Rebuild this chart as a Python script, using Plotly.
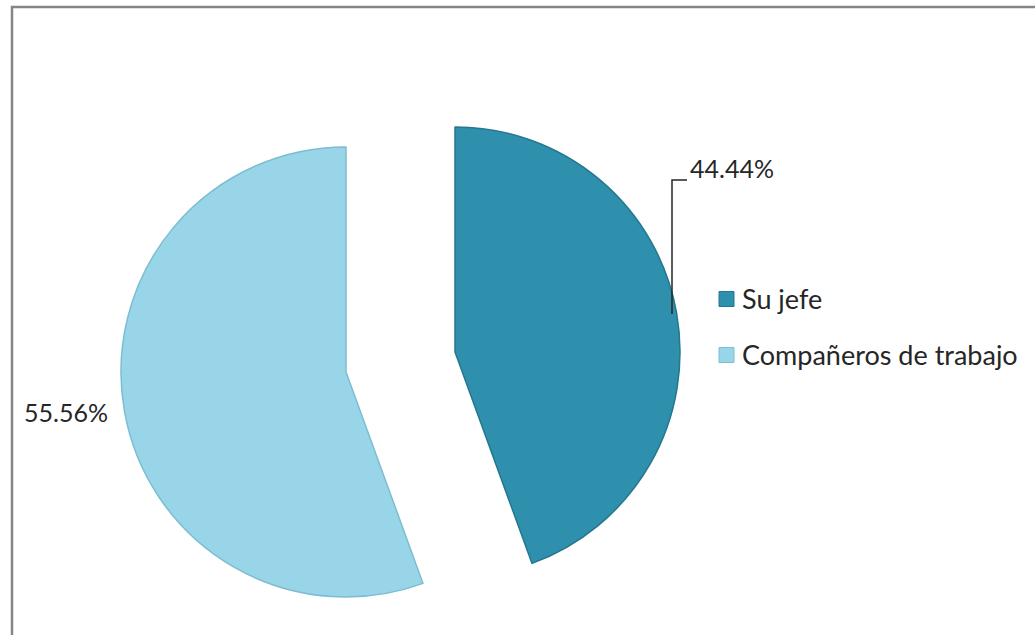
import plotly.graph_objects as go

# Survey answers: who the respondent turns to
categories = ["Su jefe", "Compañeros de trabajo"]
values = [44.44, 55.56]
colors = ["#2E90AD", "#99D5E8"]
edge_colors = ["#23778F", "#7DBDD0"]

W, H = 1035, 635
FONT = "Lato"
TEXT_COLOR = "#262626"

# Exploded pie: each wedge drawn around its own apex (pixel layout)
apex_px = [(455, 352), (346, 372)]
radius_px = 225

total = sum(values)
pct_text = [f"{v / total * 100:.2f}%" for v in values]

fig = go.Figure()

for i, (cx, cy) in enumerate(apex_px):
    slice_colors = ["rgba(0,0,0,0)"] * len(values)
    slice_lines = ["rgba(0,0,0,0)"] * len(values)
    slice_colors[i] = colors[i]
    slice_lines[i] = edge_colors[i]
    fig.add_trace(go.Pie(
        labels=categories,
        values=values,
        sort=False,
        direction="clockwise",
        rotation=0,
        textinfo="none",
        hoverinfo="label+percent",
        marker=dict(colors=slice_colors, line=dict(color=slice_lines, width=1.5)),
        domain=dict(
            x=[(cx - radius_px) / W, (cx + radius_px) / W],
            y=[(H - cy - radius_px) / H, (H - cy + radius_px) / H],
        ),
        showlegend=False,
    ))

def px_x(x):
    return x / W

def px_y(y):
    return 1 - y / H

label_font = dict(family=FONT, size=25, color=TEXT_COLOR)
legend_font = dict(family=FONT, size=27, color=TEXT_COLOR)

annotations = [
    dict(x=px_x(688), y=px_y(168), text=pct_text[0], xanchor="left", yanchor="middle", font=label_font),
    dict(x=px_x(22), y=px_y(412), text=pct_text[1], xanchor="left", yanchor="middle", font=label_font),
    # legend labels
    dict(x=px_x(740), y=px_y(298), text=categories[0], xanchor="left", yanchor="middle", font=legend_font),
    dict(x=px_x(740), y=px_y(354), text=categories[1], xanchor="left", yanchor="middle", font=legend_font),
]
for a in annotations:
    a.update(xref="paper", yref="paper", showarrow=False)

shapes = [
    # chart border
    dict(type="rect", xref="paper", yref="paper",
         x0=px_x(12), x1=1.05, y0=-0.05, y1=px_y(7),
         line=dict(color="#868686", width=2.5), fillcolor="rgba(0,0,0,0)"),
    # leader line for the right-hand label
    dict(type="path", xref="paper", yref="paper",
         path=f"M {px_x(672)},{px_y(314)} L {px_x(672)},{px_y(180)} L {px_x(687)},{px_y(180)}",
         line=dict(color="#262626", width=1.5)),
]
# legend swatches
for i, yc in enumerate([299, 355]):
    shapes.append(dict(type="rect", xref="paper", yref="paper",
                       x0=px_x(719), x1=px_x(734), y0=px_y(yc + 7.5), y1=px_y(yc - 7.5),
                       fillcolor=colors[i], line=dict(color=edge_colors[i], width=1)))

fig.update_layout(
    width=W, height=H,
    margin=dict(l=0, r=0, t=0, b=0),
    paper_bgcolor="white",
    plot_bgcolor="white",
    showlegend=False,
    annotations=annotations,
    shapes=shapes,
)

fig.write_html("out.html")
